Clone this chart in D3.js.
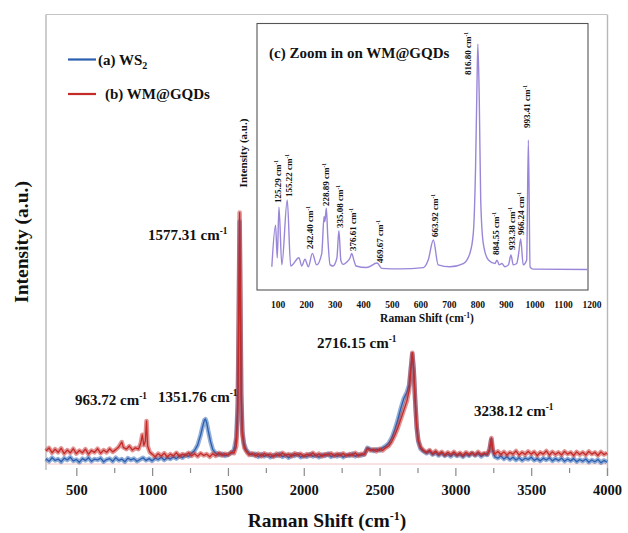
<!DOCTYPE html>
<html>
<head>
<meta charset="utf-8">
<script src="https://cdn.jsdelivr.net/npm/d3@7"></script>
<style>
  body { margin: 0; background: #fff; }
  svg text { font-family: "Liberation Serif", "DejaVu Serif", serif; font-weight: bold; fill: #111; }
</style>
</head>
<body>
<svg id="chart" width="628" height="533"></svg>
<script>
// main spectra: [Raman shift, intensity a.u.]
var ws2Data = [
  [300,1.2],[320,0.6],[340,1.4],[360,0.8],[380,1.1],[400,0.5],[420,1.3],[440,0.9],[460,1.5],[480,0.7],
  [500,1.0],[520,0.4],[540,1.2],[560,0.8],[580,1.4],[600,0.6],[620,1.1],[640,0.9],[660,1.3],[680,0.5],
  [700,1.0],[720,1.2],[740,0.6],[760,1.4],[780,0.8],[800,1.1],[820,0.5],[840,1.3],[860,0.9],[880,1.2],
  [900,0.6],[920,1.0],[940,1.4],[960,0.8],[980,1.2],[1000,0.7],[1020,1.3],[1040,1.0],[1060,1.5],[1080,0.9],
  [1100,1.4],[1120,1.1],[1140,1.6],[1160,1.2],[1180,1.8],[1200,1.4],[1220,2.0],[1240,1.7],[1260,2.4],[1280,3.0],
  [1300,4.2],[1320,6.5],[1335,8.6],[1345,9.8],[1352,10.0],[1360,9.2],[1370,7.4],[1385,5.0],[1400,3.2],[1420,2.4],
  [1440,2.0],[1460,2.3],[1480,1.8],[1500,2.1],[1520,2.4],[1540,3.2],[1555,6.0],[1565,14],[1572,34],[1577,54],
  [1582,37],[1588,16],[1595,7.5],[1605,4.6],[1620,3.2],[1640,2.4],[1660,2.0],[1680,2.3],[1700,1.6],[1720,2.2],
  [1740,1.7],[1760,2.1],[1780,1.5],[1800,2.0],[1820,1.8],[1840,2.3],[1860,1.6],[1880,2.0],[1900,1.4],[1920,2.1],
  [1940,1.8],[1960,2.2],[1980,1.5],[2000,1.9],[2020,1.6],[2040,2.2],[2060,1.7],[2080,2.0],[2100,1.5],[2120,2.1],
  [2140,1.8],[2160,2.3],[2180,1.6],[2200,2.0],[2220,1.7],[2240,2.2],[2260,1.5],[2280,2.0],[2300,1.8],[2320,2.3],
  [2340,1.7],[2360,2.1],[2380,1.9],[2400,2.2],[2420,3.6],[2440,3.3],[2460,2.9],[2480,3.3],[2500,3.0],[2520,3.6],
  [2540,4.0],[2560,4.6],[2580,5.8],[2600,7.6],[2620,9.8],[2640,12.4],[2660,14.6],[2680,16.0],[2695,17.6],[2705,21],
  [2716,24.5],[2725,21],[2735,14],[2745,8],[2755,5],[2770,3.4],[2790,2.8],[2810,2.4],[2830,2.8],[2850,2.1],
  [2870,2.5],[2890,1.9],[2910,2.4],[2930,1.8],[2950,2.2],[2970,1.7],[2990,2.3],[3010,1.8],[3030,2.1],[3050,1.6],
  [3070,2.2],[3090,1.8],[3110,2.4],[3130,1.9],[3150,2.3],[3170,1.7],[3190,2.2],[3210,2.0],[3225,3.0],[3236,5.4],
  [3245,3.0],[3260,1.6],[3280,1.3],[3300,1.8],[3320,1.1],[3340,1.6],[3360,1.0],[3380,1.5],[3400,0.9],[3420,1.4],
  [3440,0.8],[3460,1.3],[3480,1.0],[3500,1.5],[3520,0.8],[3540,1.2],[3560,0.7],[3580,1.3],[3600,0.9],[3620,1.4],
  [3640,0.7],[3660,1.2],[3680,0.8],[3700,1.3],[3720,0.6],[3740,1.1],[3760,0.7],[3780,1.2],[3800,0.5],[3820,1.0],
  [3840,0.6],[3860,1.1],[3880,0.4],[3900,0.9],[3920,0.5],[3940,1.0],[3960,0.3],[3980,0.8],[4000,0.4]
];

var gqdData = [
  [300,2.9],[320,3.6],[340,2.5],[360,3.3],[380,2.6],[400,3.5],[420,2.3],[440,3.1],[460,2.5],[480,3.4],
  [500,2.3],[520,3.0],[540,2.5],[560,3.3],[580,2.2],[600,3.0],[620,2.6],[640,3.4],[660,2.4],[680,3.1],
  [700,2.6],[720,3.4],[740,2.7],[760,3.2],[780,3.8],[800,4.9],[810,3.7],[830,3.3],[850,4.0],[870,3.1],
  [890,3.6],[910,3.3],[925,4.6],[935,6.5],[945,4.2],[955,5.0],[963,9.6],[970,4.0],[985,2.6],[1000,2.2],
  [1020,1.6],[1040,2.3],[1060,1.8],[1080,2.4],[1100,1.6],[1120,2.2],[1140,1.8],[1160,2.5],[1180,1.7],[1200,2.2],
  [1220,1.9],[1240,2.5],[1260,1.8],[1280,2.3],[1300,1.7],[1320,2.4],[1340,1.9],[1360,2.2],[1380,1.6],[1400,2.3],
  [1420,1.8],[1440,2.5],[1460,1.9],[1480,2.3],[1500,2.0],[1520,2.6],[1540,2.4],[1555,4.0],[1565,12],[1571,34],
  [1577,56],[1582,38],[1587,15],[1595,6.5],[1608,3.6],[1625,2.6],[1640,2.0],[1660,2.4],[1680,1.8],[1700,2.3],
  [1720,1.7],[1740,2.4],[1760,1.9],[1780,2.2],[1800,1.6],[1820,2.3],[1840,1.8],[1860,2.5],[1880,1.9],[1900,2.2],
  [1920,1.7],[1940,2.4],[1960,2.0],[1980,2.3],[2000,1.7],[2020,2.2],[2040,1.9],[2060,2.5],[2080,1.8],[2100,2.3],
  [2120,1.7],[2140,2.2],[2160,2.0],[2180,2.4],[2200,1.8],[2220,2.3],[2240,1.9],[2260,2.4],[2280,1.8],[2300,2.2],
  [2320,1.9],[2340,2.5],[2360,1.8],[2380,2.3],[2400,2.1],[2420,3.4],[2440,3.0],[2460,3.3],[2480,2.8],[2500,3.4],
  [2520,3.0],[2540,3.6],[2560,4.0],[2580,5.0],[2600,6.4],[2620,8.0],[2640,10.0],[2660,12.0],[2680,14.0],[2695,16.4],
  [2705,20.5],[2716,24.8],[2725,21],[2735,14],[2745,8.4],[2755,5.4],[2770,3.8],[2790,3.0],[2810,2.6],[2830,3.1],
  [2850,2.3],[2870,2.9],[2890,2.2],[2910,2.7],[2930,2.0],[2950,2.6],[2970,2.1],[2990,2.7],[3010,2.0],[3030,2.5],
  [3050,1.9],[3070,2.6],[3090,2.1],[3110,2.5],[3130,2.0],[3150,2.7],[3170,2.1],[3190,2.4],[3210,2.2],[3225,3.2],
  [3238,5.8],[3247,3.2],[3260,2.2],[3280,2.8],[3300,2.1],[3320,2.7],[3340,2.0],[3360,2.6],[3380,2.2],[3400,2.9],
  [3420,2.0],[3440,2.6],[3460,2.1],[3480,2.8],[3500,2.2],[3520,2.7],[3540,1.9],[3560,2.6],[3580,2.2],[3600,2.9],
  [3620,2.0],[3640,2.7],[3660,2.1],[3680,2.6],[3700,2.0],[3720,2.8],[3740,2.2],[3760,2.6],[3780,1.9],[3800,2.7],
  [3820,2.1],[3840,2.6],[3860,2.0],[3880,2.8],[3900,2.2],[3920,2.6],[3940,1.9],[3960,2.7],[3980,2.1],[4000,2.5]
];

// inset: zoom on WM@GQDs, 100-1200 cm-1
var insetData = [
  [78,8.7],[91,24.3],[97,12],[103,31],[113,9.4],[132,33.7],[144,9.0],[173,12.1],[183,9.0],[194,11.5],
  [206,8.7],[220,13.7],[235,9.4],[253,13.7],[261,27.5],[264,25.6],[269,30.6],[274,20],[282,9.5],[292,9.0],
  [306,12],[313,22.2],[320,11],[328,9.6],[340,10.4],[352,12],[358,13.7],[366,11],[373,9.0],[410,8.4],
  [447,10.1],[463,8.1],[527,7.9],[609,8.4],[626,11.2],[644,18.7],[661,9.4],[702,8.7],[749,9.9],[772,13.7],
  [784,21.2],[792,46.2],[797,77.4],[800,92.1],[805,71.2],[810,33.7],[819,17.5],[837,11.2],[860,9.9],[867,11.2],
  [875,9.4],[884,9.9],[895,8.7],[907,9.4],[916,13.1],[924,9.4],[936,9.9],[943,13.7],[950,19.1],[959,9.4],
  [971,11.2],[977,56.2],[983,8.7],[993,7.8],[1183,7.7]
];

var mainTicks = [500, 1000, 1500, 2000, 2500, 3000, 3500, 4000];
var mainMinorTicks = [750, 1250, 1750, 2250, 2750, 3250, 3750];
var insetTicks = [100, 200, 300, 400, 500, 600, 700, 800, 900, 1000, 1100, 1200];

var seriesNames = ["(a) WS", "(b) WM@GQDs"];
var seriesColors = ["#2a5fb0", "#c32a28"];

var mainLabels = [
  { text: "963.72 cm", x: 75, y: 405 },
  { text: "1351.76 cm", x: 158, y: 402 },
  { text: "1577.31 cm", x: 148, y: 240 },
  { text: "2716.15 cm", x: 317, y: 348 },
  { text: "3238.12 cm", x: 474, y: 416 }
];

var insetLabels = [
  { text: "125.29 cm", x: 278, y: 203 },
  { text: "155.22 cm", x: 289, y: 197 },
  { text: "242.40 cm", x: 310, y: 249 },
  { text: "228.89 cm", x: 326, y: 206 },
  { text: "335.08 cm", x: 340, y: 228 },
  { text: "376.61 cm", x: 353, y: 251 },
  { text: "469.67 cm", x: 380, y: 263 },
  { text: "663.92 cm", x: 435, y: 237 },
  { text: "816.80 cm", x: 468, y: 75 },
  { text: "884.55 cm", x: 496, y: 255 },
  { text: "933.38 cm", x: 512, y: 250 },
  { text: "966.24 cm", x: 521, y: 235 },
  { text: "993.41 cm", x: 527, y: 128 }
];

var serif = '"Liberation Serif", "DejaVu Serif", serif';
var svg = d3.select("#chart");

// scales
var x = d3.scaleLinear().domain([300, 4000]).range([46, 607]);
var y = d3.scaleLinear().domain([0, 100]).range([464, 15]);
var xi = d3.scaleLinear().domain([26, 1186]).range([257, 588]);
var yi = d3.scaleLinear().domain([0, 100]).range([290, 23]);

// helper: "xxx cm" + superscript -1
function cmLabel(sel, size) {
  sel.append("tspan").text(function(d) { return d.text; });
  sel.append("tspan").attr("dy", -size * 0.38).attr("font-size", size * 0.62).text("-1");
}

// frame
svg.append("line").attr("x1", 46).attr("x2", 607).attr("y1", 14.5).attr("y2", 14.5)
  .attr("stroke", "#c4c4c4").attr("stroke-width", 1.2);
svg.append("line").attr("x1", 46).attr("x2", 46).attr("y1", 14.5).attr("y2", 470)
  .attr("stroke", "#b8b8b8").attr("stroke-width", 1.4);
svg.append("line").attr("x1", 607.5).attr("x2", 607.5).attr("y1", 14.5).attr("y2", 476)
  .attr("stroke", "#b8b8b8").attr("stroke-width", 1.4);
svg.append("line").attr("x1", 46).attr("x2", 607).attr("y1", y(0)).attr("y2", y(0))
  .attr("stroke", "#f2c4c4").attr("stroke-width", 1);

// x axis ticks
var axMajor = d3.axisBottom(x).tickValues(mainTicks).tickSize(8).tickSizeOuter(0).tickPadding(9)
  .tickFormat(d3.format("d"));
var axMinor = d3.axisBottom(x).tickValues(mainMinorTicks).tickSize(5).tickSizeOuter(0).tickFormat("");
var gMinor = svg.append("g").attr("transform", "translate(0,468)").call(axMinor);
var gMajor = svg.append("g").attr("transform", "translate(0,468)").call(axMajor);
[gMinor, gMajor].forEach(function(g) {
  g.attr("font-family", null);
  g.select(".domain").remove();
  g.selectAll("line").attr("stroke", "#8a8a8a").attr("stroke-width", 1.2);
});
gMajor.selectAll("text")
  .style("font-family", serif)
  .attr("font-weight", "bold")
  .attr("font-size", 14.5)
  .attr("fill", "#111");

// spectra: wide translucent stroke for the noise band, then the trace
var line = d3.line()
  .x(function(d) { return x(d[0]); })
  .y(function(d) { return y(d[1]); });

[ws2Data, gqdData].forEach(function(data, i) {
  svg.append("path")
    .datum(data)
    .attr("d", line)
    .attr("fill", "none")
    .attr("stroke", seriesColors[i])
    .attr("stroke-opacity", 0.5)
    .attr("stroke-width", 4.5)
    .attr("stroke-linejoin", "round");
  svg.append("path")
    .datum(data)
    .attr("d", line)
    .attr("fill", "none")
    .attr("stroke", seriesColors[i])
    .attr("stroke-width", 1.3)
    .attr("stroke-linejoin", "round");
});

// peak labels
svg.selectAll(".peak")
  .data(mainLabels).enter().append("text")
  .attr("class", "peak")
  .attr("x", function(d) { return d.x; })
  .attr("y", function(d) { return d.y; })
  .attr("font-size", 15)
  .call(cmLabel, 15);

// legend
var leg = svg.selectAll(".leg").data(seriesNames).enter().append("g").attr("class", "leg");
leg.append("line")
  .attr("x1", 68).attr("x2", 96)
  .attr("y1", function(d, i) { return i ? 94 : 59.5; })
  .attr("y2", function(d, i) { return i ? 94 : 59.5; })
  .attr("stroke", function(d, i) { return seriesColors[i]; })
  .attr("stroke-width", 2.2);
var legText = leg.append("text")
  .attr("x", function(d, i) { return i ? 105 : 98; })
  .attr("y", function(d, i) { return i ? 99 : 65; })
  .attr("font-size", 15)
  .text(function(d) { return d; });
legText.filter(function(d, i) { return i === 0; })
  .append("tspan").attr("dy", 4).attr("font-size", 10).text("2");

// titles
svg.append("text")
  .attr("transform", "translate(28,242) rotate(-90)")
  .attr("text-anchor", "middle")
  .attr("font-size", 19.5)
  .text("Intensity (a.u.)");

var xt = svg.append("text")
  .attr("x", 327).attr("y", 527)
  .attr("text-anchor", "middle")
  .attr("font-size", 19.5);
xt.append("tspan").text("Raman Shift (cm");
xt.append("tspan").attr("dy", -7).attr("font-size", 12).text("-1");
xt.append("tspan").attr("dy", 7).text(")");

// ---- inset ----
var inset = svg.append("g").attr("class", "inset");
inset.append("rect")
  .attr("x", 257).attr("y", 23.5).attr("width", 331).attr("height", 266.5)
  .attr("fill", "#fff").attr("stroke", "#555").attr("stroke-width", 1.1);

inset.append("path")
  .datum(insetData)
  .attr("d", d3.line()
    .x(function(d) { return xi(d[0]); })
    .y(function(d) { return yi(d[1]); })
    .curve(d3.curveMonotoneX))
  .attr("fill", "none")
  .attr("stroke", "#9a86d8")
  .attr("stroke-width", 1.4);

inset.selectAll(".itick").data(insetTicks).enter().append("text")
  .attr("class", "itick")
  .attr("x", function(d) { return xi(d); })
  .attr("y", 308)
  .attr("text-anchor", "middle")
  .attr("font-size", 9.5)
  .text(function(d) { return d; });

var ixt = inset.append("text")
  .attr("x", 427).attr("y", 322)
  .attr("text-anchor", "middle")
  .attr("font-size", 11.5);
ixt.append("tspan").text("Raman Shift (cm");
ixt.append("tspan").attr("dy", -4).attr("font-size", 7.5).text("-1");
ixt.append("tspan").attr("dy", 4).text(")");

inset.append("text")
  .attr("transform", "translate(247,153) rotate(-90)")
  .attr("text-anchor", "middle")
  .attr("font-size", 11)
  .text("Intensity (a.u.)");

inset.append("text")
  .attr("x", 269).attr("y", 58)
  .attr("font-size", 15)
  .text("(c) Zoom in on WM@GQDs");

inset.selectAll(".ipeak")
  .data(insetLabels).enter().append("text")
  .attr("class", "ipeak")
  .attr("transform", function(d) { return "translate(" + (d.x + 3) + "," + d.y + ") rotate(-90)"; })
  .attr("font-size", 9)
  .call(cmLabel, 9);
</script>
</body>
</html>
